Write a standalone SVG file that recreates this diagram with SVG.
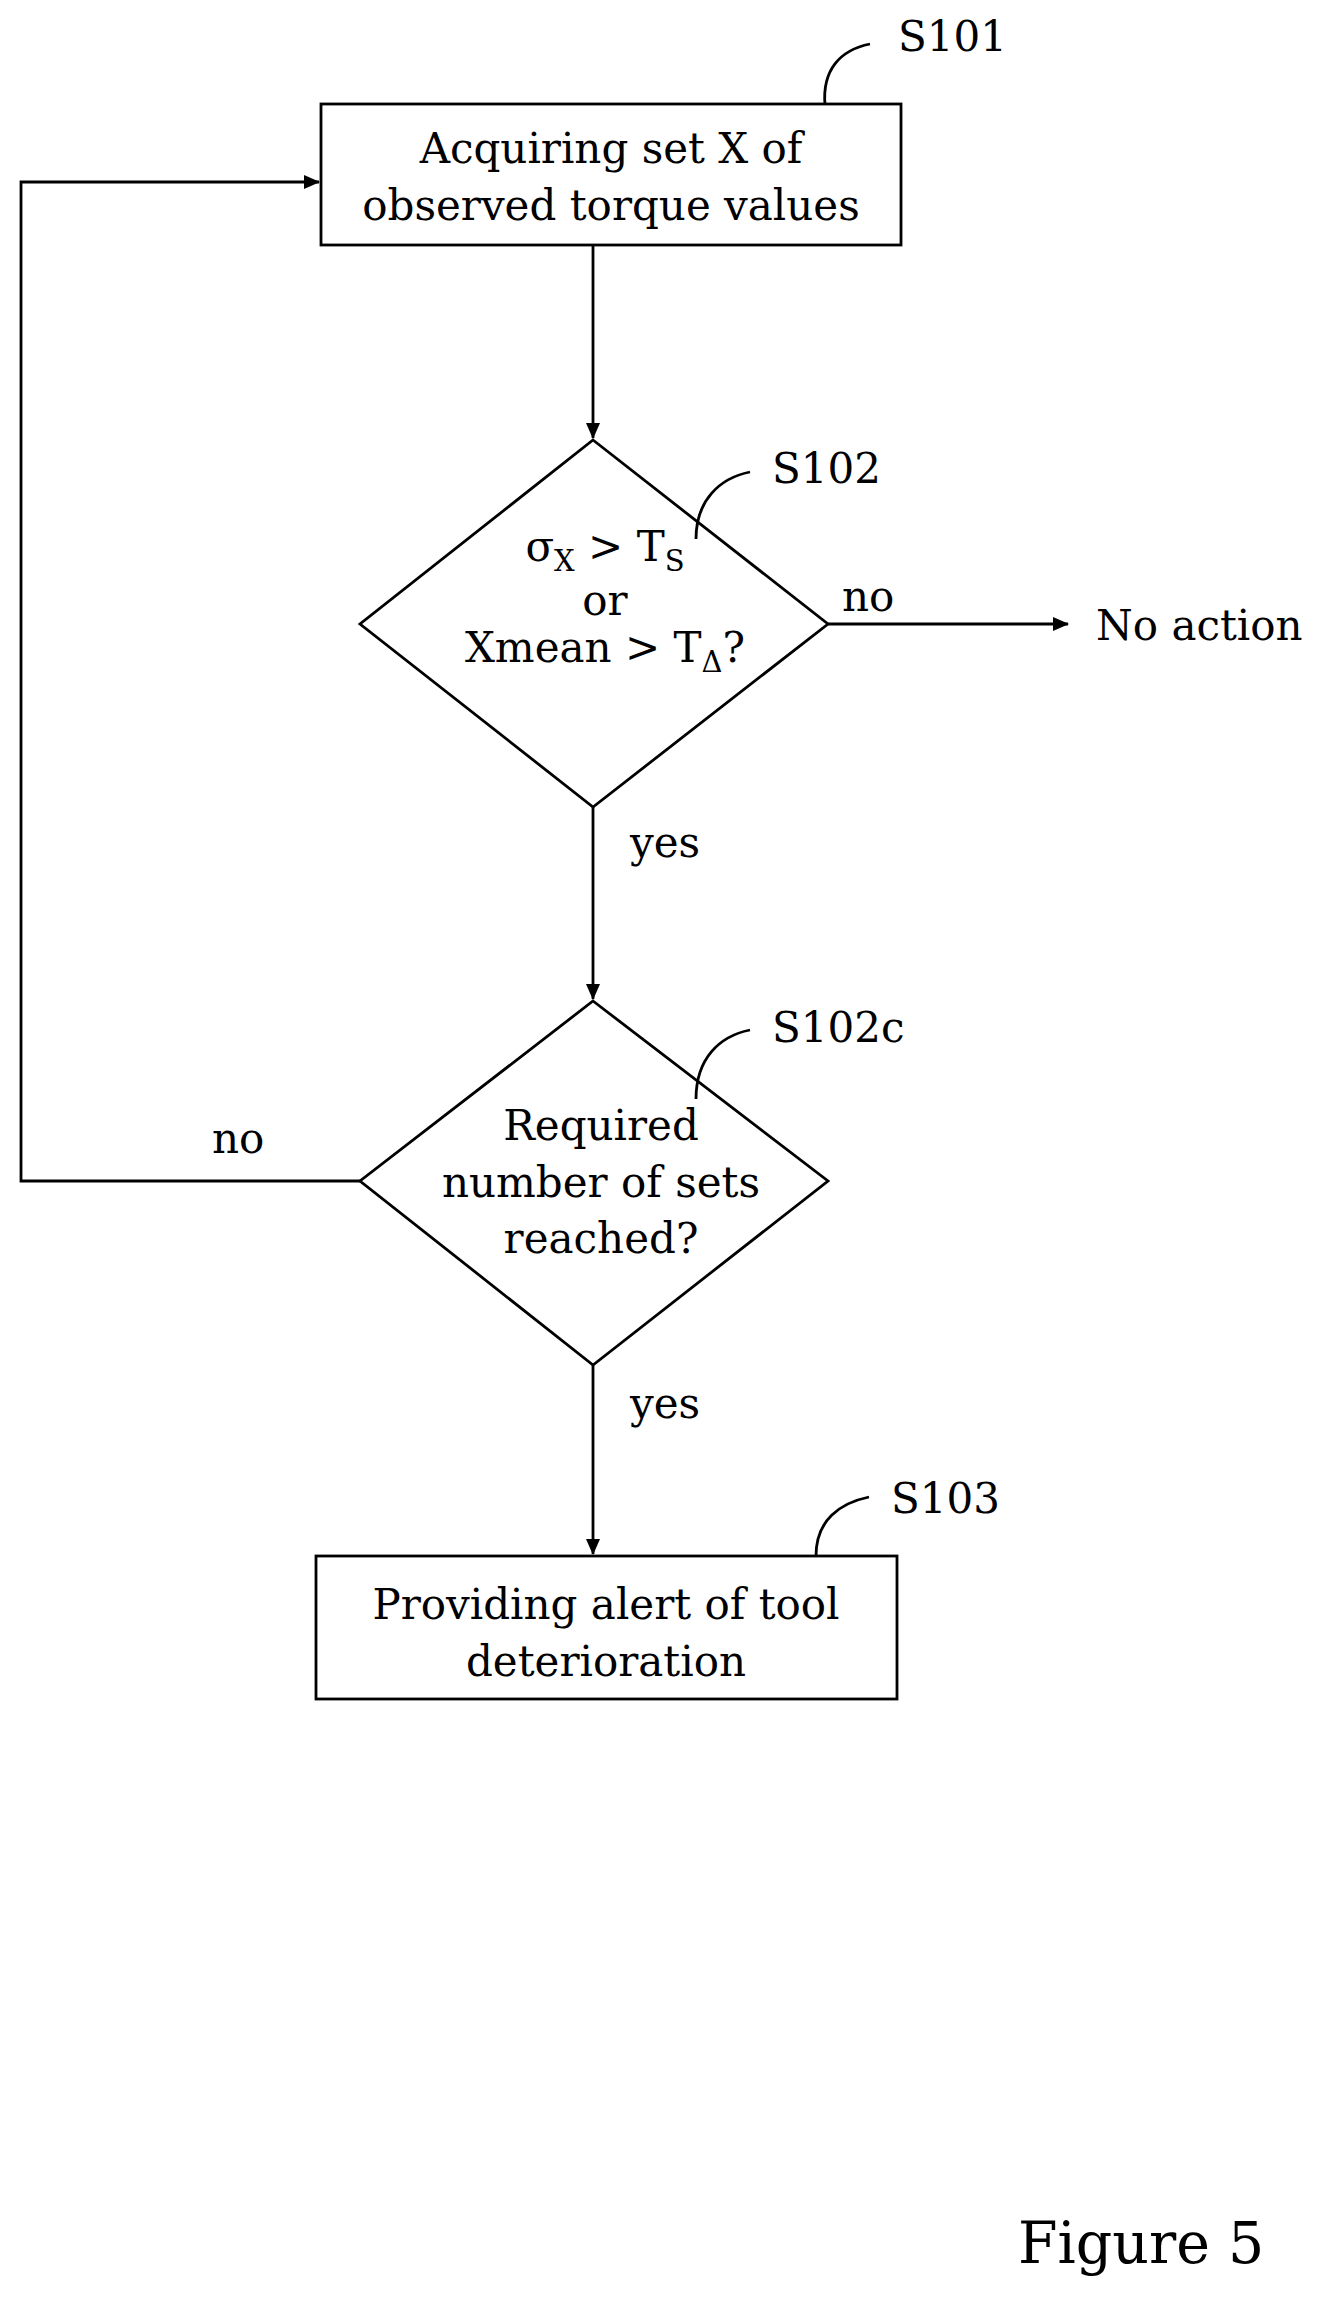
<svg xmlns="http://www.w3.org/2000/svg" width="1326" height="2310" viewBox="0 0 1326 2310">
<style>
text{font-family:"DejaVu Serif","Liberation Serif",serif;font-size:42px;fill:#000}
.c{text-anchor:middle}
.s{font-size:29px}
.ln{fill:none;stroke:#000;stroke-width:2.8}
</style>
<defs><marker id="b" markerWidth="16" markerHeight="16" refX="15" refY="7" orient="auto" markerUnits="userSpaceOnUse"><path d="M0,0 L16,7 L0,14 z" fill="#000"/></marker></defs>
<rect width="1326" height="2310" fill="#fff"/>
<g id="S101"><rect x="321" y="104" width="580" height="141" class="ln"/>
<text x="611" y="163" class="c">Acquiring set X of</text><text x="611" y="220" class="c">observed torque values</text>
<path d="M870,44 C840,50 822,70 825,105" class="ln"/><text x="898" y="51">S101</text></g>
<g id="S102"><path d="M593,440 L828,624 L593,807 L360,624 Z" class="ln"/>
<text x="605" y="561" class="c">σ<tspan class="s" dy="10">X</tspan><tspan dy="-10"> &gt; T</tspan><tspan class="s" dy="10">S</tspan></text>
<text x="605" y="615" class="c">or</text>
<text x="605" y="662" class="c">Xmean &gt; T<tspan class="s" dy="10">Δ</tspan><tspan dy="-10">?</tspan></text>
<path d="M750,472 C720,478 696,500 696,539" class="ln"/><text x="772" y="483">S102</text></g>
<g id="noaction"><text x="1096" y="640">No action</text></g>
<g id="S102c"><path d="M593,1001 L828,1181 L593,1365 L360,1181 Z" class="ln"/>
<text x="601" y="1140" class="c">Required</text><text x="601" y="1197" class="c">number of sets</text><text x="601" y="1253" class="c">reached?</text>
<path d="M750,1030 C720,1036 696,1058 696,1099" class="ln"/><text x="772" y="1042">S102c</text></g>
<g id="S103"><rect x="316" y="1556" width="581" height="143" class="ln"/>
<text x="606" y="1619" class="c">Providing alert of tool</text><text x="606" y="1676" class="c">deterioration</text>
<path d="M869,1497 C840,1503 816,1520 816,1556" class="ln"/><text x="891" y="1513">S103</text></g>
<g id="connectors">
<path d="M593,245 V438" class="ln" marker-end="url(#b)"/>
<path d="M828,624 H1068" class="ln" marker-end="url(#b)"/>
<path d="M593,807 V999" class="ln" marker-end="url(#b)"/>
<path d="M593,1365 V1554" class="ln" marker-end="url(#b)"/>
<path d="M360,1181 H21 V182 H319" class="ln" marker-end="url(#b)"/>
<text x="842" y="611">no</text><text x="630" y="857">yes</text><text x="212" y="1153">no</text><text x="630" y="1418">yes</text>
</g>
<text x="1018" y="2263" style="font-size:57px">Figure 5</text>
</svg>
